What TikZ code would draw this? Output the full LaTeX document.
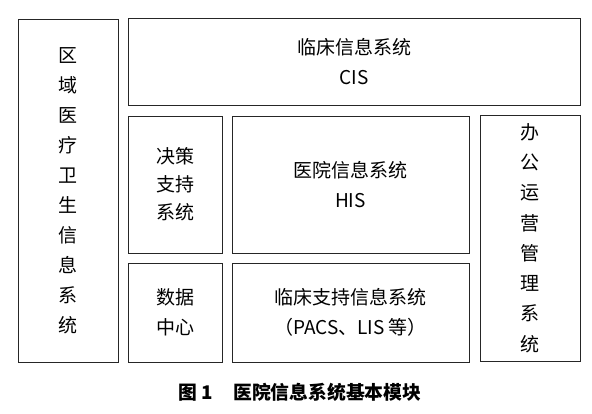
\documentclass[tikz,border=0pt]{standalone}
\usepackage{fontspec}
\newfontfamily\cjk{Noto Sans CJK SC}
\usetikzlibrary{positioning}

\tikzset{
  modbox/.style={draw=black!85, line width=0.8pt, inner sep=0pt, align=center,
    font=\cjk\fontsize{19}{29.5}\selectfont},
}

\begin{document}
\begin{tikzpicture}[x=1pt, y=-1pt]
   \useasboundingbox (0,0) rectangle (592,413);

   % outer columns
   \node[modbox, name=region, minimum width=100pt, minimum height=343pt,
         font=\cjk\fontsize{19}{30}\selectfont] at (68,190.5)
      {区\\域\\医\\疗\\卫\\生\\信\\息\\系\\统};
   \node[modbox, name=office, minimum width=100pt, minimum height=246pt,
         font=\cjk\fontsize{19}{30.3}\selectfont] at (530,238)
      {办\\公\\运\\营\\管\\理\\系\\统};

   % middle part
   \node[modbox, name=cis, minimum width=452pt, minimum height=87pt] at (354,61.5)
      {临床信息系统\\CIS};
   \node[modbox, name=dss, minimum width=94pt, minimum height=137pt,
         font=\cjk\fontsize{19}{28}\selectfont] at (175,184.5)
      {决策\\支持\\系统};
   \node[modbox, name=his, minimum width=237pt, minimum height=137pt] at (350.5,184.5)
      {医院信息系统\\HIS};
   \node[modbox, name=dc, minimum width=94pt, minimum height=99pt] at (175,312.5)
      {数据\\中心};
   \node[modbox, name=cds, minimum width=237pt, minimum height=99pt,
         font=\cjk\fontsize{19}{30}\selectfont] at (350.5,312.5)
      {临床支持信息系统\\（PACS、LIS 等）};

   % caption
   \node[name=caption, font=\cjk\bfseries\fontsize{18.8}{20}\selectfont] at (300,392)
      {图 1\hspace{20pt}医院信息系统基本模块};
\end{tikzpicture}
\end{document}
